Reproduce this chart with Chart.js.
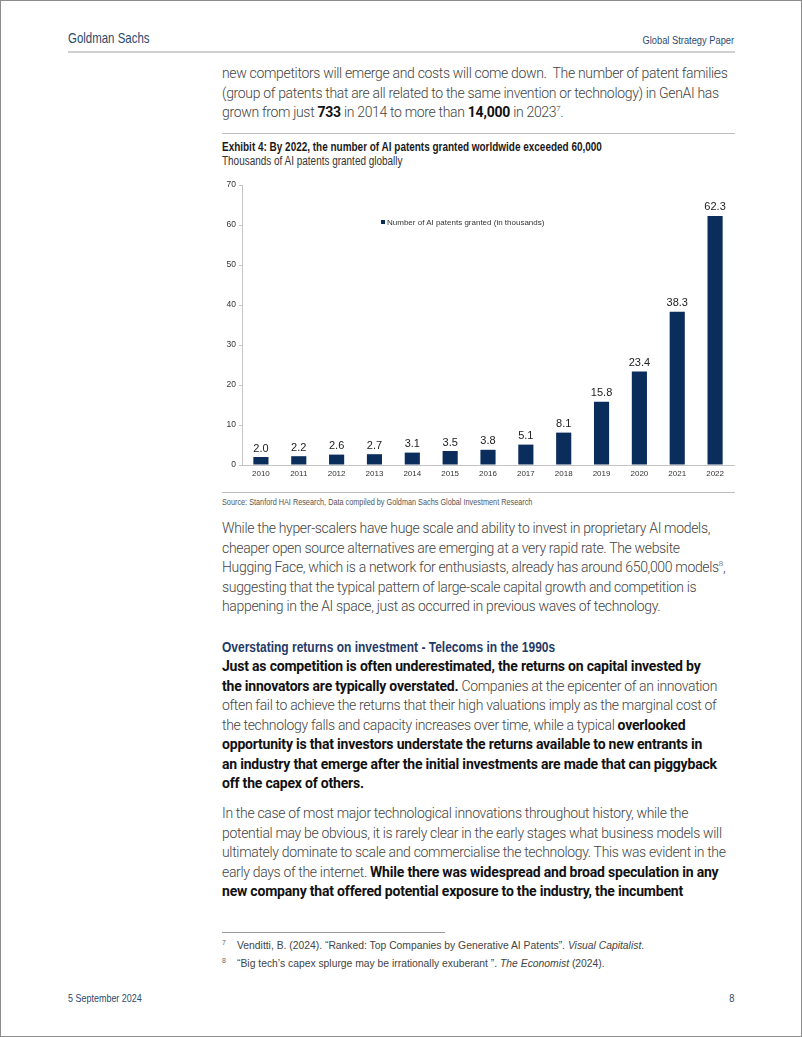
<!DOCTYPE html>
<html>
<head>
<meta charset="utf-8">
<script src="https://cdn.jsdelivr.net/npm/chart.js@4.4.1/dist/chart.umd.min.js"></script>
<style>
  html, body { margin: 0; padding: 0; background: #fff; }
  #page {
    position: relative; width: 802px; height: 1037px; box-sizing: border-box;
    border: 1px solid #8c8c8c; overflow: hidden;
    font-family: "Liberation Sans", Arial, sans-serif; color: #4d4d4d;
  }
  .abs { position: absolute; white-space: nowrap; transform-origin: left center; }
  .abs.r { transform-origin: right center; }
  .rule { position: absolute; height: 0; border-top: 1px solid #bdbdbd; }
  .para {
    position: absolute; left: 221px; font-family: Roboto, "Liberation Sans", sans-serif;
    font-weight: 300; font-size: 14px; letter-spacing: -0.33px; line-height: 19.5px;
    white-space: nowrap; color: #444;
  }
  .para b { color: #111; font-weight: 700; letter-spacing: -0.2px; }
  sup { font-size: 8px; line-height: 0; vertical-align: 6px; }
  #chartBox { position: absolute; left: 221px; top: 176px; width: 514px; height: 305px; }
  #legend { position: absolute; left: 380px; top: 217px; font-size: 8px; color: #333; line-height: 10px; }
  #legend span.sw { display: inline-block; width: 4px; height: 4px; background: #0b2d5b; margin-right: 2px; vertical-align: 1px; }
</style>
</head>
<body>
<div id="page">
  <!-- header -->
  <div class="abs" style="left:67px; top:28px; font-size:14.5px; line-height:18px; color:#2b4a6f; transform:scaleX(0.79);">Goldman Sachs</div>
  <div class="abs r" style="right:67px; top:31px; font-size:11.5px; line-height:16px; color:#2b4a6f; transform:scaleX(0.81);">Global Strategy Paper</div>
  <div class="rule" style="left:67px; width:667px; top:50px; border-top:2px solid #d0d0d0;"></div>

  <div class="para" style="top:63px;">
    new competitors will emerge and costs will come down.&nbsp; The number of patent families<br>
    (group of patents that are all related to the same invention or technology) in GenAI has<br>
    grown from just <b>733</b> in 2014 to more than <b>14,000</b> in 2023<sup>7</sup>.
  </div>

  <div class="rule" style="left:221px; width:513px; top:132px;"></div>

  <!-- exhibit -->
  <div class="abs" style="left:221px; top:139px; font-size:12px; line-height:14px; font-weight:bold; color:#1a1a1a; transform:scaleX(0.83);">Exhibit 4: By 2022, the number of AI patents granted worldwide exceeded 60,000</div>
  <div class="abs" style="left:221px; top:153px; font-size:12px; line-height:14px; color:#333; transform:scaleX(0.83);">Thousands of AI patents granted globally</div>

  <div id="chartBox"><canvas id="patentChart" width="514" height="305"></canvas></div>
  <div id="legend" class="abs"><span class="sw"></span>Number of AI patents granted (in thousands)</div>

  <div class="rule" style="left:221px; width:513px; top:491px;"></div>
  <div class="abs" style="left:221px; top:495px; font-size:9px; line-height:12px; color:#555; transform:scaleX(0.81);">Source: Stanford HAI Research, Data compiled by Goldman Sachs Global Investment Research</div>

  <div class="para" style="top:518px;">
    While the hyper-scalers have huge scale and ability to invest in proprietary AI models,<br>
    cheaper open source alternatives are emerging at a very rapid rate. The website<br>
    Hugging Face, which is a network for enthusiasts, already has around 650,000 models<sup>8</sup>,<br>
    suggesting that the typical pattern of large-scale capital growth and competition is<br>
    happening in the AI space, just as occurred in previous waves of technology.
  </div>

  <div class="abs" style="left:221px; top:636px; font-size:15px; line-height:20px; font-weight:bold; color:#1f3a66; transform:scaleX(0.80);">Overstating returns on investment - Telecoms in the 1990s</div>

  <div class="para" style="top:656px;">
    <b>Just as competition is often underestimated, the returns on capital invested by</b><br>
    <b>the innovators are typically overstated.</b> Companies at the epicenter of an innovation<br>
    often fail to achieve the returns that their high valuations imply as the marginal cost of<br>
    the technology falls and capacity increases over time, while a typical <b>overlooked</b><br>
    <b>opportunity is that investors understate the returns available to new entrants in</b><br>
    <b>an industry that emerge after the initial investments are made that can piggyback</b><br>
    <b>off the capex of others.</b>
  </div>

  <div class="para" style="top:803px;">
    In the case of most major technological innovations throughout history, while the<br>
    potential may be obvious, it is rarely clear in the early stages what business models will<br>
    ultimately dominate to scale and commercialise the technology. This was evident in the<br>
    early days of the internet. <b>While there was widespread and broad speculation in any</b><br>
    <b>new company that offered potential exposure to the industry, the incumbent</b>
  </div>

  <!-- footnotes -->
  <div class="rule" style="left:221px; width:223px; top:931px; border-top-color:#999;"></div>
  <div class="abs" style="left:221px; top:937px; font-size:7px; line-height:10px; color:#666;">7</div>
  <div class="abs" style="left:236px; top:937px; font-size:11px; line-height:14px; color:#444; transform:scaleX(0.94);">Venditti, B. (2024). “Ranked: Top Companies by Generative AI Patents”. <i>Visual Capitalist</i>.</div>
  <div class="abs" style="left:221px; top:955px; font-size:7px; line-height:10px; color:#666;">8</div>
  <div class="abs" style="left:236px; top:955px; font-size:11px; line-height:14px; color:#444; transform:scaleX(0.94);">“Big tech’s capex splurge may be irrationally exuberant ”. <i>The Economist</i> (2024).</div>

  <!-- footer -->
  <div class="abs" style="left:67px; top:989px; font-size:11.5px; line-height:16px; color:#2b4a6f; transform:scaleX(0.78);">5 September 2024</div>
  <div class="abs r" style="right:67px; top:989px; font-size:11.5px; line-height:16px; color:#2b4a6f; transform:scaleX(0.8);">8</div>
</div>

<script>
const years = ['2010', '2011', '2012', '2013', '2014', '2015', '2016', '2017', '2018', '2019', '2020', '2021', '2022'];
const patentsThousands = [2.0, 2.2, 2.6, 2.7, 3.1, 3.5, 3.8, 5.1, 8.1, 15.8, 23.4, 38.3, 62.3];
const yTicks = [0, 10, 20, 30, 40, 50, 60, 70];

const barColor = '#0b2d5b';
const axisColor = '#c4c4c4';

// values printed over each bar
const barValueLabels = {
    id: 'barValueLabels',
    afterDatasetsDraw(chart) {
        const ctx = chart.ctx;
        const meta = chart.getDatasetMeta(0);
        ctx.save();
        ctx.font = '11px "Liberation Sans", Arial, sans-serif';
        ctx.fillStyle = '#222';
        ctx.textAlign = 'center';
        ctx.textBaseline = 'bottom';
        meta.data.forEach((bar, i) => {
            ctx.fillText(patentsThousands[i].toFixed(1), bar.x, bar.y - 3);
        });
        ctx.restore();
    }
};

new Chart(document.getElementById('patentChart'), {
    type: 'bar',
    data: {
        labels: years,
        datasets: [{
            label: 'Number of AI patents granted (in thousands)',
            data: patentsThousands,
            backgroundColor: barColor,
            barPercentage: 0.4,
            categoryPercentage: 1.0
        }]
    },
    options: {
        responsive: false,
        animation: false,
        devicePixelRatio: 1,
        layout: { padding: { top: 8, right: 2, left: 0, bottom: 0 } },
        plugins: {
            legend: { display: false },
            tooltip: { enabled: false }
        },
        scales: {
            x: {
                grid: { display: false, drawTicks: false },
                border: { display: true, color: axisColor, width: 1 },
                ticks: {
                    color: '#333',
                    font: { family: '"Liberation Sans", Arial, sans-serif', size: 8 },
                    padding: 4,
                    maxRotation: 0
                },
                afterFit(scale) { scale.height = 17; }
            },
            y: {
                min: 0,
                max: 70,
                afterBuildTicks(scale) { scale.ticks = yTicks.map(v => ({ value: v })); },
                grid: { drawOnChartArea: false, drawTicks: true, tickLength: 3, color: axisColor },
                border: { display: true, color: axisColor, width: 1 },
                ticks: {
                    color: '#333',
                    font: { family: '"Liberation Sans", Arial, sans-serif', size: 8.5 },
                    padding: 3
                },
                afterFit(scale) { scale.width = 20; }
            }
        }
    },
    plugins: [barValueLabels]
});
</script>
</body>
</html>
